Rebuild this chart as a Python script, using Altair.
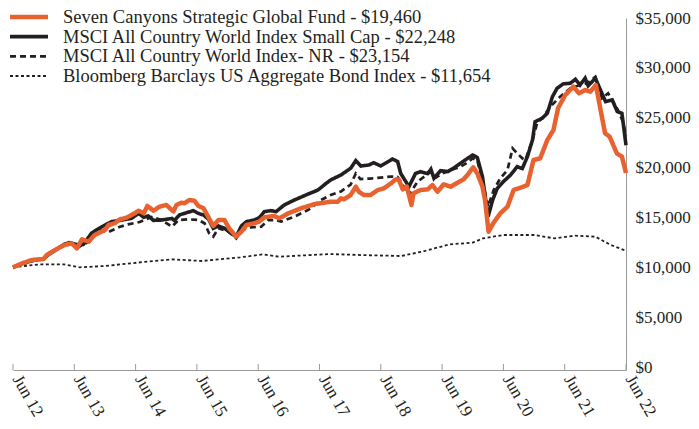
import altair as alt
import pandas as pd

NAMES = [
    "Seven Canyons Strategic Global Fund - $19,460",
    "MSCI All Country World Index Small Cap - $22,248",
    "MSCI All Country World Index- NR - $23,154",
    "Bloomberg Barclays US Aggregate Bond Index - $11,654",
]
COLORS = ["#E8622F", "#231f20", "#231f20", "#231f20"]
DASHES = [[1, 0], [1, 0], [6, 4], [3, 2.5]]
WIDTHS = [4.5, 1.8, 2, 3]

# months since Jun 2012
fund_months = [0, 1.8, 3.7, 6, 6.6, 8.2, 10.1, 11.5, 12.5, 13.5, 14.8, 16, 18, 18.7, 19.9, 20.9,
               22.2, 23.8, 24.6, 25.6, 26.3, 27.5, 28.7, 30, 31.4, 32, 33, 33.6, 34.5, 35.5, 36.3,
               37.3, 38.2, 39.2, 40.2, 41.4, 42.3, 43.7, 44.7, 45.7, 47.2, 48.2, 49.2, 51.1, 52.1,
               53.9, 56.4, 58.9, 60.9, 62.2, 63.6, 64.2, 64.8, 66.1, 67.1, 67.7, 68.7, 70, 71.4,
               72.6, 74, 74.9, 75.5, 76.3, 77.1, 78, 78.4, 79.8, 81.2, 82.1, 83.1, 84.3, 85.7, 87,
               88.2, 89.2, 90.1, 90.9, 91.9, 92.4, 93.1, 94, 95.4, 96.8, 98, 99.9, 100.7, 101.9,
               103.2, 104.6, 105.8, 106.7, 108.1, 109.7, 110.8, 112, 113, 114.1, 115.9, 116.8,
               118.2, 119.2, 120]
fund_values = [10000, 10400, 10730, 10830, 11230, 11730, 12240, 12400, 11900, 12800, 12570, 13240,
               13740, 14240, 14410, 14810, 14970, 15410, 15680, 15410, 16150, 15680, 16080, 16250,
               15600, 16250, 16480, 16420, 16750, 16680, 16150, 15920, 15080, 14140, 14740, 14740,
               13910, 13070, 13570, 14240, 14410, 14580, 15010, 15150, 14910, 15410, 15920, 16320,
               16480, 16580, 16580, 16920, 16820, 17250, 18080, 17580, 17250, 17250, 17750, 17920,
               18420, 18810, 18810, 17820, 18080, 16250, 17420, 17750, 17820, 18250, 17580, 18320,
               18080, 18480, 18810, 19410, 20030, 19410, 18080, 16750, 13570, 14410, 15410, 16080,
               17750, 18080, 18250, 20760, 20930, 22770, 23770, 25950, 27280, 28110, 27450, 27780,
               27610, 28280, 23440, 23100, 21430, 21100, 19460]

small_months = [0, 2, 4, 6, 7, 8.5, 10, 11, 12.8, 13.8, 15.4, 17.4, 19.3, 21.3, 23.2, 24.6, 25.6,
                26.5, 27.5, 29.1, 31.1, 31.6, 32.6, 34, 35.3, 36.3, 37.3, 38.3, 39.2, 40.2, 41.4,
                42.7, 43.7, 44.7, 45.7, 47.2, 48.2, 49.2, 50.5, 51.5, 53.1, 55.1, 57.8, 59.7, 61.3,
                62.2, 64.2, 66.1, 67.1, 68.1, 69.7, 70.6, 72, 73.4, 74.3, 75.3, 75.9, 76.9, 77.5,
                78.8, 79.8, 81.2, 81.8, 82.4, 83.7, 85.1, 86.2, 87.6, 89, 90, 90.9, 91.9, 93,
                93.9, 94.8, 96, 97.4, 98.7, 99.7, 100.7, 101.7, 102.2, 103.6, 104.6, 105.6, 106.5,
                107.7, 109.1, 110.1, 111, 112, 112.6, 114, 115, 116, 117.3, 118.3, 119.2, 120]
small_values = [10000, 10400, 10700, 10850, 11300, 11800, 12300, 12470, 12240, 12300, 13440, 14070,
                14580, 14740, 14910, 15410, 15010, 15150, 14700, 14740, 14900, 14700, 15250, 15480,
                15680, 15400, 15250, 14810, 13910, 14140, 13910, 13410, 13070, 14140, 14580, 14740,
                14970, 15580, 15680, 15580, 16250, 16750, 17350, 17750, 18420, 18760, 19260, 19930,
                20690, 20160, 20260, 20490, 20160, 20590, 20860, 20600, 19410, 18590, 18080, 19410,
                19590, 19400, 19830, 18930, 19690, 19600, 19930, 20430, 20930, 21260, 21000, 19090,
                15080, 16750, 17920, 18590, 19260, 20090, 19900, 21100, 22770, 24600, 24950, 25450,
                27110, 27950, 28390, 28460, 28850, 28280, 28960, 28200, 28960, 27780, 26610, 26780,
                25610, 25450, 22248]

nr_months = [0, 2, 4, 6, 7, 8.5, 10, 11, 12.8, 13.5, 15, 16.8, 18.7, 20.8, 22.5, 24.8, 27.1, 29.1,
             31.1, 32.4, 34.3, 36.3, 37.5, 38.4, 39.2, 40.2, 42.2, 43.7, 44.7, 46.6, 48.6, 50,
             51.5, 52.5, 55.1, 57.8, 60.3, 62.2, 64.2, 66.1, 67.1, 68, 70, 72, 74, 75.3, 76, 77.5,
             79.2, 81.8, 82.8, 84, 86, 87.6, 89, 90, 90.9, 92, 93, 94.1, 95.4, 96.8, 97.8, 98.7,
             99.7, 100.3, 101.7, 102.6, 103.8, 105.2, 107.1, 109.1, 111, 112.4, 114, 115.3, 116.5,
             117.3, 118.4, 119.4, 120]
nr_values = [10000, 10350, 10650, 10850, 11250, 11750, 12250, 12400, 12000, 12240, 12570, 13740,
             13540, 14040, 14300, 14540, 15050, 14740, 14070, 14740, 14810, 14740, 14410, 13410,
             13070, 13910, 13570, 12900, 13740, 14010, 14070, 14740, 14740, 14580, 15080, 15750,
             16750, 17250, 17600, 18300, 19410, 18850, 18900, 19000, 19100, 19060, 18500, 17250,
             18590, 19590, 19000, 19400, 19800, 20090, 20500, 20930, 20700, 18500, 16080, 17750,
             18930, 19760, 21930, 21430, 20930, 20760, 22770, 24440, 25110, 26110, 27110, 27950,
             28280, 28450, 29110, 26950, 27450, 26780, 25780, 24600, 23154]

bond_months = [0, 5.3, 10, 13, 18, 23, 31, 37, 44.5, 49, 52, 62, 68, 76, 80, 85.5, 90, 92, 96, 102,
               106, 110, 114, 117, 120]
bond_values = [10000, 10300, 10300, 10000, 10130, 10400, 10800, 10630, 11000, 11300, 11060, 11330,
               11230, 11130, 11560, 12300, 12470, 12900, 13240, 13240, 12900, 13170, 13070, 12240,
               11654]

x_tick_months = list(range(0, 121, 12))
y_ticks = list(range(0, 35001, 5000))

rows = []
for name, ms, vs in zip(NAMES, [fund_months, small_months, nr_months, bond_months],
                        [fund_values, small_values, nr_values, bond_values]):
    for m, v in zip(ms, vs):
        rows.append({"series": name, "month": m, "value": v})
df = pd.DataFrame(rows)

FONT = "Liberation Serif"
TEXT = "#231f20"
AXIS = "#9a9a9a"
W, H = 613, 352

color = alt.Color("series:N", scale=alt.Scale(domain=NAMES, range=COLORS), legend=None)
dash = alt.StrokeDash("series:N", scale=alt.Scale(domain=NAMES, range=DASHES), legend=None)
width = alt.StrokeWidth("series:N", scale=alt.Scale(domain=NAMES, range=WIDTHS), legend=None)

x = alt.X("month:Q", scale=alt.Scale(domain=[0, 120], nice=False, zero=False),
          axis=alt.Axis(values=x_tick_months, labelExpr="'Jun ' + (12 + datum.value / 12)",
                        labelAngle=60, labelAlign="left", labelBaseline="middle", labelPadding=6,
                        labelOffset=3, ticks=False, domainColor=AXIS, labelFont=FONT,
                        labelFontSize=17, labelColor=TEXT, grid=False, title=None,
                        labelOverlap=False))
y = alt.Y("value:Q", scale=alt.Scale(domain=[-300, 35000], nice=False, zero=False),
          axis=alt.Axis(orient="right", values=y_ticks, format="$,.0f", ticks=False, grid=False,
                        domainColor=AXIS, labelFont=FONT, labelFontSize=17, labelColor=TEXT,
                        labelPadding=9, title=None, labelBaseline="middle"))

base = alt.Chart(df).encode(x=x, y=y, color=color, strokeDash=dash, strokeWidth=width,
                            detail="series:N")
black = base.transform_filter(alt.datum.series != NAMES[0]).mark_line()
orange = base.transform_filter(alt.datum.series == NAMES[0]).mark_line(strokeJoin="round")

ticks = alt.Chart(pd.DataFrame({"month": x_tick_months})).mark_rule(
    color=AXIS, strokeWidth=1).encode(x=alt.X("month:Q"), y=alt.value(H - 6), y2=alt.value(H))

leg_df = pd.DataFrame({"series": NAMES})
leg_y = alt.Y("series:N", scale=alt.Scale(type="point", domain=NAMES, range=[-1, 58], padding=0),
              axis=None)
leg_rule = alt.Chart(leg_df).mark_rule().encode(
    x=alt.value(-3), x2=alt.value(35), y=leg_y, color=color, strokeDash=dash, strokeWidth=width)
leg_text = alt.Chart(leg_df).mark_text(align="left", baseline="middle", font=FONT, fontSize=18.5,
                                       color=TEXT).encode(x=alt.value(50), y=leg_y, text="series:N")

chart = alt.layer(
    alt.layer(black, orange, ticks),
    alt.layer(leg_rule, leg_text),
).resolve_scale(y="independent").properties(
    width=W, height=H,
    padding={"left": 5, "top": 10, "right": 65, "bottom": 51},
    autosize=alt.AutoSizeParams(type="none"),
).configure_view(stroke=None)

chart.save("out.html", embed_options={"renderer": "svg", "actions": False})
